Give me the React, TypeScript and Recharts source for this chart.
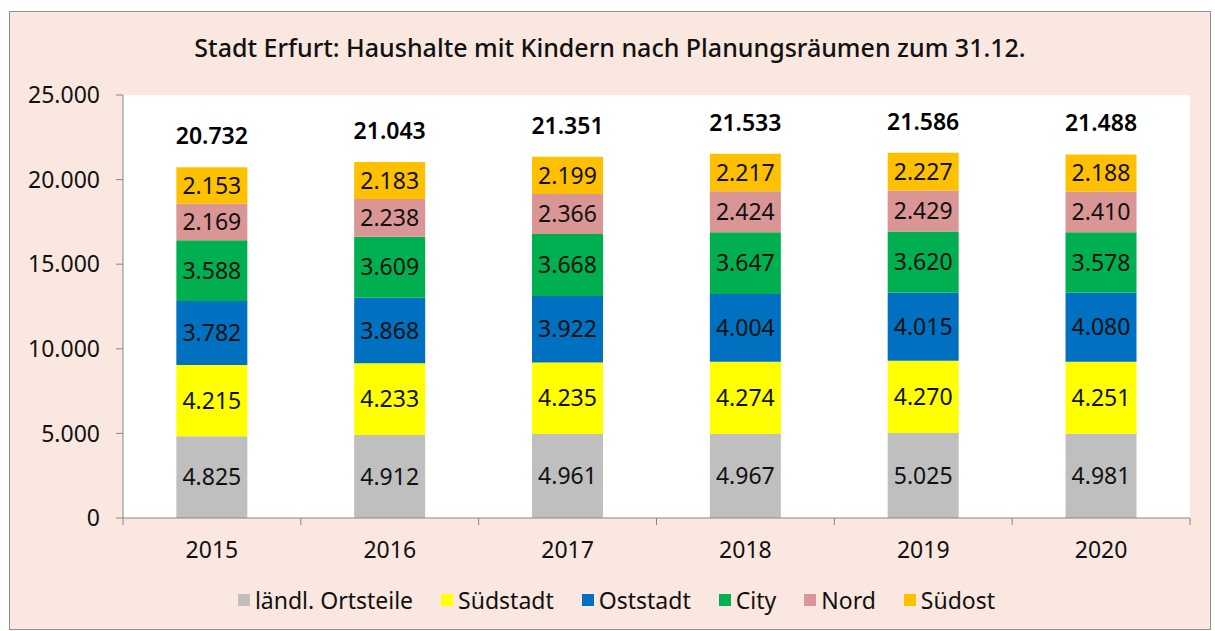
import React from 'react';
import { BarChart, Bar, XAxis, YAxis, CartesianGrid, Legend, LabelList } from 'recharts';

const years = ['2015', '2016', '2017', '2018', '2019', '2020'];
const laendl = [4825, 4912, 4961, 4967, 5025, 4981];
const suedstadt = [4215, 4233, 4235, 4274, 4270, 4251];
const oststadt = [3782, 3868, 3922, 4004, 4015, 4080];
const city = [3588, 3609, 3668, 3647, 3620, 3578];
const nord = [2169, 2238, 2366, 2424, 2429, 2410];
const suedost = [2153, 2183, 2199, 2217, 2227, 2188];
const totals = [20732, 21043, 21351, 21533, 21586, 21488];
const yTicks = [0, 5000, 10000, 15000, 20000, 25000];

const series = [
  { key: 'laendl', name: 'ländl. Ortsteile', color: '#BFBFBF' },
  { key: 'suedstadt', name: 'Südstadt', color: '#FFFF00' },
  { key: 'oststadt', name: 'Oststadt', color: '#0070C0' },
  { key: 'city', name: 'City', color: '#00B050' },
  { key: 'nord', name: 'Nord', color: '#DA9694' },
  { key: 'suedost', name: 'Südost', color: '#FFC000' },
];

const data = years.map((y, i) => ({
  year: y,
  laendl: laendl[i],
  suedstadt: suedstadt[i],
  oststadt: oststadt[i],
  city: city[i],
  nord: nord[i],
  suedost: suedost[i],
}));

const fmt = (v: any) => String(v).replace(/\B(?=(\d{3})+(?!\d))/g, '.');

const FONT = '"Noto Sans", sans-serif';
const AXIS = '#868686';
const BAND = 1067 / 6;
const FS = 23;

const XTick = (props: any) => {
  const { x, y, payload, index } = props;
  return (
    <g>
      <line x1={x - BAND / 2} x2={x - BAND / 2} y1={y} y2={y + 7} stroke={AXIS} />
      {index === years.length - 1 && (
        <line x1={x + BAND / 2} x2={x + BAND / 2} y1={y} y2={y + 7} stroke={AXIS} />
      )}
      <text x={x} y={y + 31} textAnchor="middle" dominantBaseline="central" fontSize={FS} fill="#111" fontFamily={FONT}>
        {payload.value}
      </text>
    </g>
  );
};

const TotalLabel = (props: any) => {
  const { x, y, width, index } = props;
  return (
    <text x={x + width / 2} y={y - 32} textAnchor="middle" dominantBaseline="central" fontSize={FS} fontWeight={600} fill="#000" fontFamily={FONT}>
      {fmt(totals[index])}
    </text>
  );
};

const LegendContent = () => (
  <div style={{ height: 40, display: 'flex', justifyContent: 'center', alignItems: 'center', fontFamily: FONT, fontSize: FS, color: '#111' }}>
    {series.map((s, i) => (
      <div key={s.key} style={{ display: 'flex', alignItems: 'center', marginLeft: i === 0 ? 0 : 28 }}>
        <div style={{ width: 12, height: 12, background: s.color, marginRight: 5 }} />
        <span>{s.name}</span>
      </div>
    ))}
  </div>
);

export default function App() {
  return (
    <div style={{ position: 'absolute', left: 9, top: 11, width: 1200, height: 617, background: '#FAE7DF', border: '1px solid #8f8f8f', fontFamily: FONT }}>
      <div style={{ position: 'absolute', left: 0, top: 20, width: '100%', textAlign: 'center', fontSize: 25, lineHeight: '30px', fontWeight: 500, color: '#111' }}>
        Stadt Erfurt: Haushalte mit Kindern nach Planungsräumen zum 31.12.
      </div>
      <BarChart width={1200} height={617} data={data} margin={{ top: 83, right: 20, left: 33, bottom: 9 }} barCategoryGap="30%">
        <CartesianGrid fill="#ffffff" stroke="none" horizontal={false} vertical={false} />
        <XAxis dataKey="year" height={62} tickLine={false} tickSize={0} tickMargin={0} axisLine={{ stroke: AXIS }} tick={<XTick />} interval={0} />
        <YAxis width={80} domain={[0, 25000]} ticks={yTicks} tickFormatter={fmt} tickSize={7} tickMargin={16}
          axisLine={{ stroke: AXIS }} tickLine={{ stroke: AXIS }}
          tick={{ fill: '#111', fontSize: FS, fontFamily: FONT }} />
        <Legend verticalAlign="bottom" content={<LegendContent />} />
        {series.map((s, i) => (
          <Bar key={s.key} dataKey={s.key} name={s.name} stackId="a" fill={s.color} isAnimationActive={false}>
            <LabelList dataKey={s.key} position="center" formatter={fmt} fill="#111" fontSize={FS} fontFamily={FONT} />
            {i === series.length - 1 && <LabelList dataKey={s.key} content={<TotalLabel />} />}
          </Bar>
        ))}
      </BarChart>
    </div>
  );
}
